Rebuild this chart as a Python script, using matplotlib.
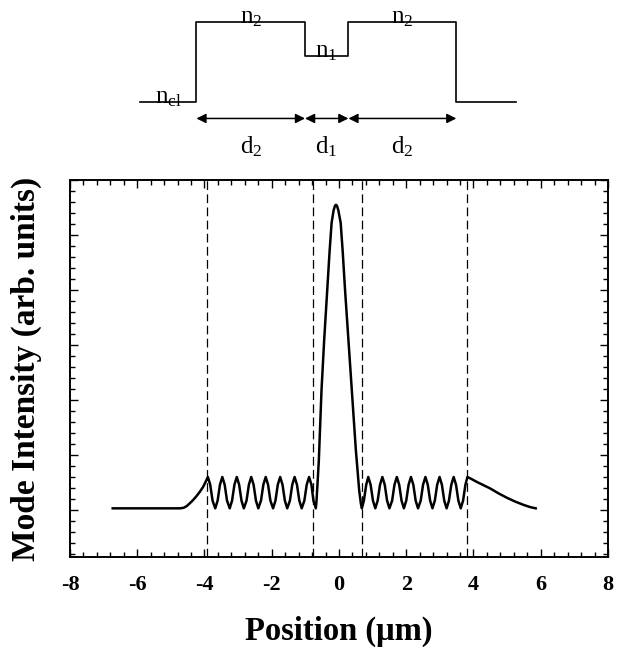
import matplotlib
matplotlib.use('Agg')
import matplotlib.pyplot as plt
from matplotlib.ticker import MultipleLocator, NullFormatter

plt.rcParams['font.family'] = ['Liberation Serif', 'DejaVu Serif']
plt.rcParams['mathtext.fontset'] = 'custom'
plt.rcParams['mathtext.rm'] = 'Liberation Serif'
plt.rcParams['mathtext.it'] = 'Liberation Serif:italic'
plt.rcParams['axes.unicode_minus'] = False

# mode intensity (x in um, arb. units)
left_tail_x = [-6.73, -4.72, -4.62, -4.53, -4.44, -4.34, -4.24, -4.14, -4.04, -3.96]
left_tail_y = [0.03, 0.03, 0.04, 0.07, 0.12, 0.18, 0.25, 0.33, 0.42, 0.52]

left_clad_x = [-3.90, -3.83, -3.76, -3.68, -3.61, -3.54, -3.47, -3.40, -3.33, -3.25,
               -3.18, -3.11, -3.04, -2.97, -2.90, -2.83, -2.75, -2.68, -2.61, -2.54,
               -2.47, -2.40, -2.32, -2.25, -2.18, -2.11, -2.04, -1.96, -1.89, -1.82,
               -1.75, -1.68, -1.61, -1.54, -1.46, -1.39, -1.32, -1.25, -1.18, -1.11,
               -1.03, -0.96, -0.89, -0.82, -0.76]
left_clad_y = [0.60, 0.46, 0.17, 0.03, 0.17, 0.46, 0.60, 0.46, 0.17, 0.03,
               0.17, 0.46, 0.60, 0.46, 0.17, 0.03, 0.17, 0.46, 0.60, 0.46,
               0.17, 0.03, 0.17, 0.46, 0.60, 0.46, 0.17, 0.03, 0.17, 0.46,
               0.60, 0.46, 0.17, 0.03, 0.17, 0.46, 0.60, 0.46, 0.17, 0.03,
               0.17, 0.46, 0.60, 0.46, 0.17]

core_x = [-0.69, -0.67, -0.65, -0.60, -0.52, -0.44, -0.35, -0.28, -0.22, -0.16, -0.12,
          -0.09, -0.06, -0.02, 0.05, 0.11, 0.18, 0.28, 0.38, 0.50, 0.60, 0.65]
core_y = [0.03, 0.15, 0.36, 0.90, 2.18, 3.10, 4.00, 4.70, 5.22, 5.45, 5.53,
          5.55, 5.53, 5.45, 5.22, 4.70, 4.00, 3.10, 2.18, 1.10, 0.36, 0.12]

right_clad_x = [0.68, 0.74, 0.81, 0.87, 0.94, 1.01, 1.08, 1.15, 1.22, 1.29,
                1.36, 1.43, 1.50, 1.58, 1.65, 1.72, 1.79, 1.86, 1.93, 2.00,
                2.07, 2.14, 2.21, 2.28, 2.35, 2.43, 2.50, 2.57, 2.64, 2.71,
                2.78, 2.85, 2.92, 2.99, 3.06, 3.13, 3.20, 3.27, 3.34, 3.41,
                3.48, 3.55, 3.62, 3.69, 3.76, 3.82]
right_clad_y = [0.03, 0.17, 0.46, 0.60, 0.46, 0.17, 0.03, 0.17, 0.46, 0.60,
                0.46, 0.17, 0.03, 0.17, 0.46, 0.60, 0.46, 0.17, 0.03, 0.17,
                0.46, 0.60, 0.46, 0.17, 0.03, 0.17, 0.46, 0.60, 0.46, 0.17,
                0.03, 0.17, 0.46, 0.60, 0.46, 0.17, 0.03, 0.17, 0.46, 0.60,
                0.46, 0.17, 0.03, 0.17, 0.46, 0.60]

right_tail_x = [3.95, 4.10, 4.30, 4.50, 4.75, 5.00, 5.25, 5.50, 5.70, 5.85]
right_tail_y = [0.56, 0.51, 0.45, 0.39, 0.30, 0.22, 0.15, 0.09, 0.05, 0.03]

# layer boundaries (dashed lines)
boundaries = [-3.92, -0.78, 0.68, 3.80]

# index profile sketch: layer edges and levels (n_cl = 0, n2 = 1)
layer_edges = [-5.93, -4.24, -1.01, 0.28, 3.49, 5.25]
layer_levels = [0.0, 1.0, 0.57, 1.0, 0.0, 0.0]
layer_names = [r'$\mathrm{n_{cl}}$', r'$\mathrm{n_2}$', r'$\mathrm{n_1}$', r'$\mathrm{n_2}$']
width_names = [r'$\mathrm{d_2}$', r'$\mathrm{d_1}$', r'$\mathrm{d_2}$']

x = left_tail_x + left_clad_x + core_x + right_clad_x + right_tail_x
y = left_tail_y + left_clad_y + core_y + right_clad_y + right_tail_y

fig = plt.figure(figsize=(6.21, 6.51), dpi=100)
ax = fig.add_axes([70/621, 94/651, 538/621, 377/651])

ax.plot(x, y, color='black', lw=1.8)
for b in boundaries:
    ax.axvline(b, color='black', lw=0.9, dashes=(7, 3.5))

ax.set_xlim(-8, 8)
ax.set_ylim(-0.855, 6.0)
ax.xaxis.set_major_locator(MultipleLocator(2))
ax.xaxis.set_minor_locator(MultipleLocator(0.4))
ax.yaxis.set_major_locator(MultipleLocator(1))
ax.yaxis.set_minor_locator(MultipleLocator(0.2))
ax.yaxis.set_major_formatter(NullFormatter())
ax.tick_params(which='both', direction='in', top=True, right=True, width=1.0)
ax.tick_params(which='major', length=6)
ax.tick_params(which='minor', length=3.5)
ax.tick_params(axis='x', pad=13, labelsize=16)
for lab in ax.get_xticklabels():
    lab.set_fontweight('bold')
for sp in ax.spines.values():
    sp.set_linewidth(1.4)

ax.set_xlabel('Position (μm)', fontsize=23.5, fontweight='bold', labelpad=15)
ax.set_ylabel('Mode Intensity (arb. units)', fontsize=24, fontweight='bold', labelpad=17)

# refractive index sketch above the plot
ins = fig.add_axes([70/621, 481/651, 538/621, 170/651])
ins.set_xlim(-8, 8)
ins.set_ylim(-0.854, 1.27)
ins.axis('off')
ins.plot(layer_edges, layer_levels, color='black', lw=1.2, drawstyle='steps-post')

for i, name in enumerate(layer_names):
    xc = (layer_edges[i] + layer_edges[i + 1]) / 2
    ins.text(xc, layer_levels[i] - 0.02, name, fontsize=18, ha='center', va='baseline')

for i, name in enumerate(width_names):
    x0, x1 = layer_edges[i + 1], layer_edges[i + 2]
    ins.annotate('', xy=(x1, -0.21), xytext=(x0, -0.21),
                 arrowprops=dict(arrowstyle='<|-|>', color='black', lw=1.1,
                                 mutation_scale=14, shrinkA=0, shrinkB=0))
    ins.text((x0 + x1) / 2, -0.56, name, fontsize=18, ha='center', va='center')

fig.savefig('out.png', dpi=100)
